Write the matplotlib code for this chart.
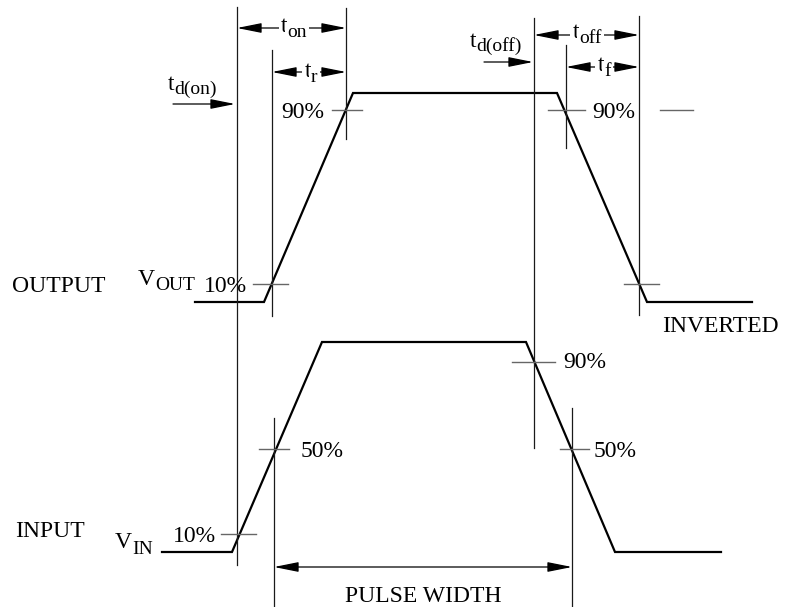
import matplotlib
matplotlib.use("Agg")
import matplotlib.pyplot as plt

plt.rcParams['font.family'] = ['Liberation Serif', 'DejaVu Serif']

# waveforms (pixel coords, y grows downwards)
out_x = [195, 264, 353, 557, 647, 752]
out_y = [302, 302, 93, 93, 302, 302]
in_x = [162, 232, 322, 526, 615, 721]
in_y = [552, 552, 342, 342, 552, 552]

# timing cursors: x, top, bottom
cursor_x = [237, 272, 346, 534, 566, 639, 274, 572]
cursor_top = [7, 50, 8, 18, 45, 16, 418, 408]
cursor_bot = [565, 316, 139, 448, 148, 315, 607, 607]

# level marks: x0, x1, y
mark_x0 = [253, 332, 548, 624, 660, 512, 259, 560, 221]
mark_x1 = [288, 362, 585, 659, 693, 555, 289, 589, 256]
mark_y = [284, 110, 110, 284, 110, 362, 449, 449, 534]

pct_labels = ["10%", "90%", "90%", "90%", "50%", "50%", "10%"]
pct_x = [204, 281, 592, 563, 301, 594, 173]
pct_y = [292, 118, 118, 368, 457, 457, 542]

FS = 17
SUB = 14

fig = plt.figure(figsize=(7.96, 6.07), dpi=100)
ax = fig.add_axes([0, 0, 1, 1])
ax.set_xlim(0, 796)
ax.set_ylim(607, 0)
ax.axis("off")
renderer = fig.canvas.get_renderer()

ax.plot(out_x, out_y, color="black", lw=1.6, solid_joinstyle="miter")
ax.plot(in_x, in_y, color="black", lw=1.6, solid_joinstyle="miter")

for x, y0, y1 in zip(cursor_x, cursor_top, cursor_bot):
    ax.plot([x, x], [y0, y1], color="#1a1a1a", lw=0.9)

for x0, x1, y in zip(mark_x0, mark_x1, mark_y):
    ax.plot([x0, x1], [y, y], color="#666666", lw=1.0)

for s, x, y in zip(pct_labels, pct_x, pct_y):
    ax.text(x, y, s, fontsize=FS, ha="left", va="baseline")


def sub_text(x, y, main, sub, drop=5, center=False, box=False):
    kw = {}
    if box:
        kw = dict(bbox=dict(facecolor="white", edgecolor="none", pad=1.5))
    t1 = ax.text(x, y, main, fontsize=FS, ha="left", va="baseline", **kw)
    w1 = t1.get_window_extent(renderer).width
    t2 = ax.text(x + w1, y + drop, sub, fontsize=SUB, ha="left", va="baseline", **kw)
    w2 = t2.get_window_extent(renderer).width
    if center:
        off = (w1 + w2) / 2
        t1.set_position((x - off, y))
        t2.set_position((x - off + w1, y + drop))


def arrow(x0, x1, y, style):
    ax.annotate("", xy=(x1, y), xytext=(x0, y),
                arrowprops=dict(arrowstyle=style + ",head_length=1.5,head_width=0.3",
                                color="black", lw=0.9, shrinkA=0, shrinkB=0,
                                mutation_scale=10))


# dimension arrows
arrow(237, 346, 28, "<|-|>")
sub_text(294, 32, "t", "on", center=True, box=True)
arrow(272, 346, 72, "<|-|>")
sub_text(311, 77, "t", "r", center=True, box=True)
arrow(534, 639, 35, "<|-|>")
sub_text(587, 38, "t", "off", center=True, box=True)
arrow(566, 639, 67, "<|-|>")
sub_text(604, 71, "t", "f", center=True, box=True)
arrow(274, 572, 567, "<|-|>")

arrow(173, 235, 104, "-|>")
sub_text(168, 90, "t", "d(on)", drop=4)
arrow(484, 533, 62, "-|>")
sub_text(470, 47, "t", "d(off)", drop=4)

# signal names
ax.text(12, 292, "OUTPUT", fontsize=FS, ha="left", va="baseline")
sub_text(138, 285, "V", "OUT", drop=5)
ax.text(662, 332, "INVERTED", fontsize=FS, ha="left", va="baseline")
ax.text(15, 537, "INPUT", fontsize=FS, ha="left", va="baseline")
sub_text(115, 548, "V", "IN", drop=6)
ax.text(423, 602, "PULSE WIDTH", fontsize=FS, ha="center", va="baseline")

fig.savefig("out.png", dpi=100, facecolor="white")
